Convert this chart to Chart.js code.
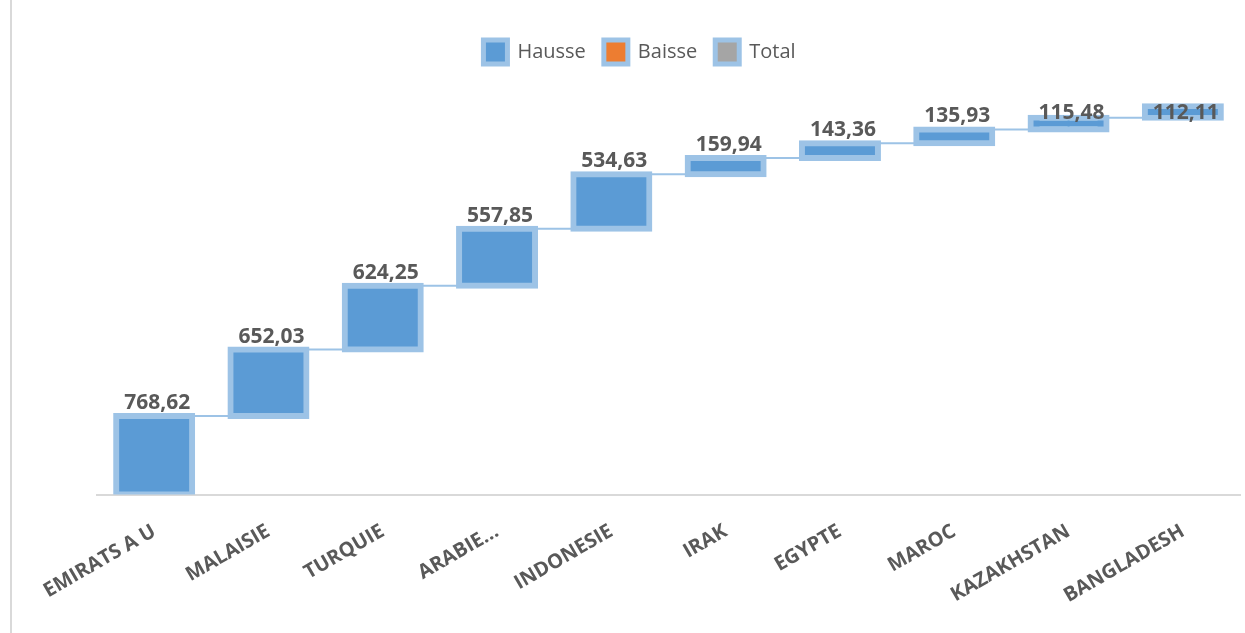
<!DOCTYPE html>
<html>
<head>
<meta charset="utf-8">
<script src="https://cdn.jsdelivr.net/npm/chart.js@4"></script>
<style>
  html, body { margin: 0; padding: 0; background: #fff; }
  #wrap { position: relative; width: 1245px; height: 633px; }
  #wrap:before { content: ''; position: absolute; left: 10px; top: 0; bottom: 0; border-left: 2px solid #d9d9d9; }
</style>
</head>
<body>
<div id="wrap"><canvas id="myChart" width="1245" height="633"></canvas></div>
<script>
// countries and their values (waterfall, all "Hausse")
let pays = ['EMIRATS A U', 'MALAISIE', 'TURQUIE', 'ARABIE...', 'INDONESIE', 'IRAK', 'EGYPTE', 'MAROC', 'KAZAKHSTAN', 'BANGLADESH'];
let hausse = [768.62, 652.03, 624.25, 557.85, 534.63, 159.94, 143.36, 135.93, 115.48, 112.11];
let legendNames = ['Hausse', 'Baisse', 'Total'];

// floating bars [start, end] built from the running total
let floats = [], tops = [];
let run = 0;
hausse.forEach(v => {
  floats.push([run, run + v]);
  run += v;
  tops.push(run);
});

let fmt = v => v.toFixed(2).replace('.', ',');

// value labels above each bar
const valueLabels = {
  id: 'valueLabels',
  afterDatasetsDraw(chart) {
    const ctx = chart.ctx;
    const meta = chart.getDatasetMeta(0);
    ctx.save();
    ctx.font = 'bold 21px "Open Sans"';
    ctx.fillStyle = '#595959';
    ctx.textAlign = 'center';
    ctx.textBaseline = 'alphabetic';
    meta.data.forEach((bar, i) => {
      let y = Math.max(bar.y - 7, 119);
      ctx.fillText(fmt(hausse[i]), bar.x + 3, y);
    });
    ctx.restore();
  }
};

// nudge legend a bit to the left like the original
const legendShift = {
  id: 'legendShift',
  afterLayout(chart) {
    chart.legend.left -= 29;
    chart.legend.right -= 29;
  }
};

var ctx = document.getElementById('myChart').getContext('2d');
var chart = new Chart(ctx, {
  data: {
    labels: pays,
    datasets: [{
      type: 'bar',
      label: legendNames[0],
      data: floats,
      backgroundColor: '#5b9bd5',
      borderColor: '#9dc3e6',
      borderWidth: 6,
      inflateAmount: 3,
      borderSkipped: false,
      grouped: false,
      categoryPercentage: 1,
      barPercentage: 0.665,
      order: 1
    }, {
      type: 'bar',
      label: legendNames[1],
      data: [],
      backgroundColor: '#ed7d31',
      borderColor: '#9dc3e6',
      borderWidth: 5,
      grouped: false,
      order: 1
    }, {
      type: 'bar',
      label: legendNames[2],
      data: [],
      backgroundColor: '#a5a5a5',
      borderColor: '#9dc3e6',
      borderWidth: 5,
      grouped: false,
      order: 1
    }, {
      // connectors between bars
      type: 'line',
      label: 'conn',
      data: tops,
      stepped: 'before',
      borderColor: '#9dc3e6',
      borderWidth: 2,
      pointRadius: 0,
      fill: false,
      order: 2
    }]
  },
  options: {
    responsive: false,
    animation: false,
    layout: { padding: { left: 97, right: 5, top: 22, bottom: 0 } },
    plugins: {
      tooltip: { enabled: false },
      legend: {
        position: 'top',
        labels: {
          font: { family: 'Open Sans', size: 20 },
          color: '#595959',
          boxWidth: 24,
          boxHeight: 24,
          padding: 18,
          generateLabels(chart) {
            return chart.data.datasets.slice(0, 3).map((ds, i) => ({
              text: ds.label,
              fillStyle: ds.backgroundColor,
              strokeStyle: ds.borderColor,
              lineWidth: 5,
              fontColor: '#595959',
              datasetIndex: i
            }));
          }
        }
      }
    },
    scales: {
      x: {
        grid: { display: false, drawTicks: false },
        border: { color: '#d9d9d9', width: 2 },
        ticks: {
          color: '#595959',
          font: { family: 'Open Sans', size: 20, weight: 'bold' },
          minRotation: 30,
          maxRotation: 30,
          labelOffset: 0,
          padding: 25
        }
      },
      y: {
        display: false,
        min: 0,
        max: 4120
      }
    }
  },
  plugins: [valueLabels, legendShift]
});
</script>
</body>
</html>
